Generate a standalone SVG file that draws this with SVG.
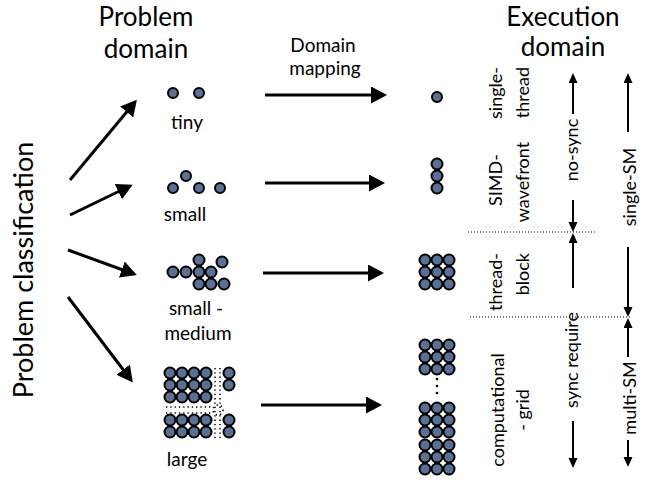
<svg xmlns="http://www.w3.org/2000/svg" width="651" height="483" viewBox="0 0 651 483">
  <style>
    text { font-family: Lato, "Open Sans", "DejaVu Sans", sans-serif; fill: #000; }
    .title { font-size: 26px; text-anchor: middle; }
    .lbl { font-size: 19px; text-anchor: middle; }
    .vt { font-size: 18px; }
    .dot { fill: #5b7092; stroke: #000; stroke-width: 2; }
    .pip { fill: #000; }
    .big { stroke: #000; stroke-width: 3; fill: none; marker-end: url(#headBig); }
    .thin { stroke: #000; stroke-width: 2; fill: none; marker-end: url(#headSmall); }
    .sep { stroke: #000; stroke-width: 1; stroke-dasharray: 1 2; fill: none; }
    .ell { stroke: #000; stroke-width: 1.5; stroke-dasharray: 1.3 3; fill: none; }
  </style>
  <defs>
    <marker id="headBig" markerUnits="userSpaceOnUse" markerWidth="17" markerHeight="17" refX="13" refY="8.5" orient="auto">
      <path d="M0,0 L16,8.5 L0,17 z" fill="#000"/>
    </marker>
    <marker id="headSmall" markerUnits="userSpaceOnUse" markerWidth="11" markerHeight="10" refX="7" refY="4.5" orient="auto">
      <path d="M0,0 L10,4.5 L0,9 z" fill="#000"/>
    </marker>
  </defs>

  <rect width="651" height="483" fill="#fff"/>

  <!-- headings -->
  <g id="heading-problem">
    <text class="title" x="146" y="26">Problem</text>
    <text class="title" x="146" y="58">domain</text>
  </g>
  <g id="heading-mapping">
    <text class="lbl" x="323" y="52">Domain</text>
    <text class="lbl" x="325" y="75">mapping</text>
  </g>
  <g id="heading-execution">
    <text class="title" x="563" y="26">Execution</text>
    <text class="title" x="563" y="56">domain</text>
  </g>
  <g id="classification">
    <text class="title" style="font-size:27px" transform="translate(33,270) rotate(-90)">Problem classification</text>
  </g>

  <!-- problem sizes -->
  <g id="p-tiny">
    <circle class="dot" cx="173" cy="93" r="5"/>
    <circle class="dot" cx="199" cy="93" r="5"/>
    <text class="lbl" x="187" y="129">tiny</text>
  </g>
  <g id="p-small">
    <circle class="dot" cx="186" cy="176" r="5"/>
    <circle class="dot" cx="173" cy="188" r="5"/>
    <circle class="dot" cx="199" cy="188" r="5"/>
    <circle class="dot" cx="220" cy="188" r="5"/>
    <text class="lbl" x="185" y="221">small</text>
  </g>
  <g id="p-small-medium">
    <circle class="dot" cx="199" cy="260" r="5.5"/>
    <circle class="dot" cx="222" cy="262" r="5.5"/>
    <circle class="dot" cx="173" cy="272" r="5.5"/>
    <circle class="dot" cx="186" cy="272" r="5.5"/>
    <circle class="dot" cx="199" cy="272" r="5.5"/>
    <circle class="dot" cx="211" cy="272" r="5.5"/>
    <circle class="dot" cx="199" cy="284" r="5.5"/>
    <circle class="dot" cx="211" cy="284" r="5.5"/>
    <circle class="dot" cx="224" cy="284" r="5.5"/>
    <text class="lbl" x="196" y="315">small -</text>
    <text class="lbl" x="198" y="340">medium</text>
  </g>
  <g id="p-large">
    <g>
      <circle class="dot" cx="170" cy="373" r="5.5"/><circle class="dot" cx="182" cy="373" r="5.5"/><circle class="dot" cx="194" cy="373" r="5.5"/><circle class="dot" cx="206" cy="373" r="5.5"/>
      <circle class="dot" cx="170" cy="385" r="5.5"/><circle class="dot" cx="182" cy="385" r="5.5"/><circle class="dot" cx="194" cy="385" r="5.5"/><circle class="dot" cx="206" cy="385" r="5.5"/>
      <circle class="dot" cx="170" cy="397" r="5.5"/><circle class="dot" cx="182" cy="397" r="5.5"/><circle class="dot" cx="194" cy="397" r="5.5"/><circle class="dot" cx="206" cy="397" r="5.5"/>
      <circle class="dot" cx="170" cy="420" r="5.5"/><circle class="dot" cx="182" cy="420" r="5.5"/><circle class="dot" cx="194" cy="420" r="5.5"/><circle class="dot" cx="206" cy="420" r="5.5"/>
      <circle class="dot" cx="170" cy="432" r="5.5"/><circle class="dot" cx="182" cy="432" r="5.5"/><circle class="dot" cx="194" cy="432" r="5.5"/><circle class="dot" cx="206" cy="432" r="5.5"/>
      <circle class="dot" cx="229" cy="373" r="5.5"/><circle class="dot" cx="229" cy="385" r="5.5"/>
      <circle class="dot" cx="229" cy="420" r="5.5"/><circle class="dot" cx="229" cy="432" r="5.5"/>
    </g>
    <!-- elided rows and columns -->
    <path class="ell" d="M166,407 H212 M166,413 H212 M215,368 V438 M220,368 V438"/>
    <circle class="ell" cx="218" cy="410" r="5"/>
    <text class="lbl" x="187" y="466">large</text>
  </g>

  <!-- execution units -->
  <g id="e-thread">
    <circle class="dot" cx="437" cy="97" r="5"/>
  </g>
  <g id="e-wavefront">
    <circle class="dot" cx="437" cy="164" r="5.5"/>
    <circle class="dot" cx="437" cy="176" r="5.5"/>
    <circle class="dot" cx="437" cy="188" r="5.5"/>
  </g>
  <g id="e-block">
    <circle class="dot" cx="425" cy="260" r="5.5"/><circle class="dot" cx="437" cy="260" r="5.5"/><circle class="dot" cx="449" cy="260" r="5.5"/>
    <circle class="dot" cx="425" cy="272" r="5.5"/><circle class="dot" cx="437" cy="272" r="5.5"/><circle class="dot" cx="449" cy="272" r="5.5"/>
    <circle class="dot" cx="425" cy="284" r="5.5"/><circle class="dot" cx="437" cy="284" r="5.5"/><circle class="dot" cx="449" cy="284" r="5.5"/>
  </g>
  <g id="e-grid">
    <circle class="dot" cx="425" cy="345" r="5.5"/><circle class="dot" cx="437" cy="345" r="5.5"/><circle class="dot" cx="449" cy="345" r="5.5"/>
    <circle class="dot" cx="425" cy="357" r="5.5"/><circle class="dot" cx="437" cy="357" r="5.5"/><circle class="dot" cx="449" cy="357" r="5.5"/>
    <circle class="dot" cx="425" cy="369" r="5.5"/><circle class="dot" cx="437" cy="369" r="5.5"/><circle class="dot" cx="449" cy="369" r="5.5"/>
    <circle class="pip" cx="437" cy="379" r="1.3"/>
    <circle class="pip" cx="437" cy="386" r="1.3"/>
    <circle class="pip" cx="437" cy="393" r="1.3"/>
    <circle class="dot" cx="425" cy="408" r="5.5"/><circle class="dot" cx="437" cy="408" r="5.5"/><circle class="dot" cx="449" cy="408" r="5.5"/>
    <circle class="dot" cx="425" cy="420" r="5.5"/><circle class="dot" cx="437" cy="420" r="5.5"/><circle class="dot" cx="449" cy="420" r="5.5"/>
    <circle class="dot" cx="425" cy="432" r="5.5"/><circle class="dot" cx="437" cy="432" r="5.5"/><circle class="dot" cx="449" cy="432" r="5.5"/>
    <circle class="dot" cx="425" cy="445" r="5.5"/><circle class="dot" cx="437" cy="445" r="5.5"/><circle class="dot" cx="449" cy="445" r="5.5"/>
    <circle class="dot" cx="425" cy="457" r="5.5"/><circle class="dot" cx="437" cy="457" r="5.5"/><circle class="dot" cx="449" cy="457" r="5.5"/>
    <circle class="dot" cx="425" cy="469" r="5.5"/><circle class="dot" cx="437" cy="469" r="5.5"/><circle class="dot" cx="449" cy="469" r="5.5"/>
  </g>

  <!-- execution level names -->
  <g id="n-single-thread">
    <text class="vt" text-anchor="end" transform="translate(502,67) rotate(-90)">single-</text>
    <text class="vt" text-anchor="end" transform="translate(529,67) rotate(-90)">thread</text>
  </g>
  <g id="n-simd-wavefront">
    <text class="vt" text-anchor="middle" transform="translate(502,180) rotate(-90)">SIMD-</text>
    <text class="vt" text-anchor="middle" transform="translate(529,182) rotate(-90)">wavefront</text>
  </g>
  <g id="n-thread-block">
    <text class="vt" text-anchor="end" transform="translate(502,253) rotate(-90)">thread-</text>
    <text class="vt" text-anchor="end" transform="translate(529,253) rotate(-90)">block</text>
  </g>
  <g id="n-computational-grid">
    <text class="vt" text-anchor="middle" transform="translate(504,410) rotate(-90)">computational</text>
    <text class="vt" text-anchor="middle" transform="translate(529,410) rotate(-90)">- grid</text>
  </g>

  <!-- synchronisation and SM spans -->
  <g id="s-no-sync">
    <text class="vt" text-anchor="middle" transform="translate(578,150) rotate(-90)">no-sync</text>
  </g>
  <g id="s-sync-require">
    <text class="vt" text-anchor="middle" transform="translate(578,360) rotate(-90)">sync require</text>
  </g>
  <g id="s-single-sm">
    <text class="vt" text-anchor="middle" transform="translate(636,187) rotate(-90)">single-SM</text>
  </g>
  <g id="s-multi-sm">
    <text class="vt" text-anchor="middle" transform="translate(636,398) rotate(-90)">multi-SM</text>
  </g>

  <g id="connectors">
    <!-- classification arrows -->
    <line class="big" x1="70" y1="180" x2="135" y2="102"/>
    <line class="big" x1="70" y1="215" x2="130" y2="186"/>
    <line class="big" x1="68" y1="250" x2="134" y2="274"/>
    <line class="big" x1="68" y1="297" x2="131" y2="380"/>
    <!-- domain mapping arrows -->
    <line class="big" x1="265" y1="95" x2="384" y2="95"/>
    <line class="big" x1="265" y1="183" x2="382" y2="183"/>
    <line class="big" x1="263" y1="273" x2="381" y2="273"/>
    <line class="big" x1="261" y1="405" x2="379" y2="405"/>
    <!-- span arrows -->
    <line class="thin" x1="573" y1="114" x2="573" y2="76"/>
    <line class="thin" x1="573" y1="200" x2="573" y2="229"/>
    <line class="thin" x1="573" y1="288" x2="573" y2="236"/>
    <line class="thin" x1="573" y1="421" x2="573" y2="465"/>
    <line class="thin" x1="628" y1="132" x2="628" y2="76"/>
    <line class="thin" x1="628" y1="247" x2="628" y2="314"/>
    <line class="thin" x1="628" y1="357" x2="628" y2="321"/>
    <line class="thin" x1="628" y1="440" x2="628" y2="464"/>
    <!-- level separators -->
    <line class="sep" x1="468" y1="232" x2="596" y2="232"/>
    <line class="sep" x1="470" y1="317" x2="632" y2="317"/>
  </g>
</svg>
